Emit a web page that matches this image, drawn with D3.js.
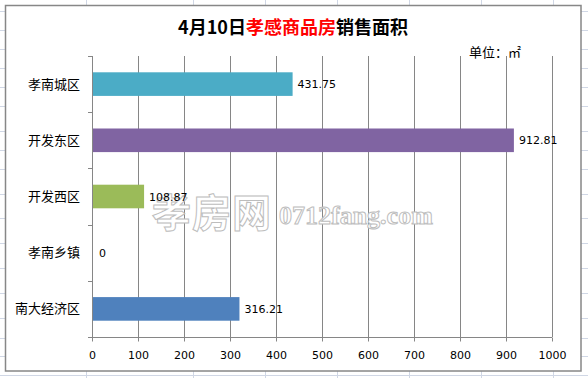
<!DOCTYPE html>
<html><head><meta charset="utf-8">
<script src="https://cdn.jsdelivr.net/npm/d3@7"></script>
<style>html,body{margin:0;padding:0;background:#fff;}svg{display:block;}</style>
</head><body>
<script>
const categories = ["孝南城区", "开发东区", "开发西区", "孝南乡镇", "南大经济区"];
const values = [431.75, 912.81, 108.87, 0, 316.21];
const colors = ["#4BACC6", "#8064A2", "#9BBB59", "#C0504D", "#4F81BD"];
const xTicks = [0, 100, 200, 300, 400, 500, 600, 700, 800, 900, 1000];
const titleParts = [["4月10日", "#000"], ["孝感商品房", "#FF0000"], ["销售面积", "#000"]];
const unitLabel = "单位：㎡";
const sheetCols = [86, 193, 265, 337, 409, 481, 553];
const sheetRows = [11, 30, 49, 68, 87, 106, 131, 150, 169, 194, 218, 243, 268, 293, 318, 338, 356, 375];

const W = 588, H = 378;
const svg = d3.select("body").append("svg").attr("width", W).attr("height", H);

// spreadsheet background
svg.append("rect").attr("width", W).attr("height", H).attr("fill", "#fff");
svg.selectAll("line.col").data(sheetCols).join("line")
  .attr("x1", d => d + 0.5).attr("x2", d => d + 0.5).attr("y1", 0).attr("y2", H)
  .attr("stroke", "#D0D7E5");
svg.selectAll("line.row").data(sheetRows).join("line")
  .attr("y1", d => d + 0.5).attr("y2", d => d + 0.5).attr("x1", 0).attr("x2", W)
  .attr("stroke", "#D0D7E5");

// chart frame
svg.append("rect").attr("x", 5.5).attr("y", 5.5).attr("width", 575.5).attr("height", 365.5)
  .attr("fill", "#fff").attr("stroke", "#878787").attr("stroke-width", 1.5);

const m = {left: 92, right: 552, top: 56, bottom: 337};
const x = d3.scaleLinear().domain([0, 1000]).range([m.left, m.right]);
const y = d3.scaleBand().domain(categories).range([m.top, m.bottom]).paddingInner(0.58).paddingOuter(0.29);

const gridColor = "#868686";
// gridlines
svg.append("g").selectAll("line").data(xTicks.slice(1)).join("line")
  .attr("x1", d => Math.round(x(d)) + 0.5).attr("x2", d => Math.round(x(d)) + 0.5)
  .attr("y1", m.top).attr("y2", m.bottom)
  .attr("stroke", gridColor);

// x axis
const xAxis = svg.append("g").attr("transform", `translate(0,${m.bottom + 0.5})`)
  .call(d3.axisBottom(x).tickValues(xTicks).tickFormat(d3.format("d")).tickSize(4).tickSizeOuter(0).tickPadding(6));
xAxis.select(".domain").attr("stroke", gridColor).attr("d", `M${m.left - 4},0H${m.right}`);
xAxis.selectAll(".tick line").attr("stroke", gridColor);
xAxis.selectAll(".tick").attr("transform", d => `translate(${Math.round(x(d)) + 0.5},0)`);
xAxis.selectAll("text").attr("font-family", "DejaVu Sans").attr("font-size", 11).attr("fill", "#000")
  .attr("dy", null).attr("y", 21.5);

// y axis line and ticks at band boundaries
svg.append("line").attr("x1", m.left + 0.5).attr("x2", m.left + 0.5).attr("y1", m.top).attr("y2", m.bottom)
  .attr("stroke", gridColor);
const step = y.step();
const bounds = d3.range(categories.length + 1).map(i => m.top + i * step);
svg.append("g").selectAll("line").data(bounds).join("line")
  .attr("x1", m.left - 4).attr("x2", m.left)
  .attr("y1", d => Math.round(d) + 0.5).attr("y2", d => Math.round(d) + 0.5)
  .attr("stroke", gridColor);

// category labels
svg.append("g").selectAll("text").data(categories).join("text")
  .attr("x", 80).attr("y", d => y(d) + y.bandwidth() / 2 + 4.5)
  .attr("text-anchor", "end").attr("font-family", "Noto Sans CJK SC").attr("font-size", 13)
  .attr("fill", "#000").text(d => d);

// bars
svg.append("g").selectAll("rect").data(categories).join("rect")
  .attr("x", m.left + 1).attr("y", d => y(d))
  .attr("width", (d, i) => values[i] > 0 ? x(values[i]) - m.left + 1 : 0)
  .attr("height", y.bandwidth())
  .attr("fill", (d, i) => colors[i]);

// title
const title = svg.append("text").attr("x", 293).attr("y", 34).attr("text-anchor", "middle")
  .attr("font-family", "Noto Sans CJK SC").attr("font-size", 18).attr("font-weight", "bold");
titleParts.forEach(([t, c]) => title.append("tspan").attr("fill", c).text(t));

// unit
svg.append("text").attr("x", 469).attr("y", 57).attr("font-family", "Noto Sans CJK SC")
  .attr("font-size", 13).attr("fill", "#000").text(unitLabel);

// watermark (drawn beneath data labels)
svg.append("text").attr("x", 152).attr("y", 227).attr("font-family", "Noto Sans CJK SC")
  .attr("font-size", 39).attr("font-weight", "bold").attr("fill", "#fff").attr("stroke", "#BDBDBD")
  .attr("stroke-width", 1).attr("letter-spacing", 1).text("孝房网");
svg.append("text").attr("x", 279).attr("y", 224).attr("font-family", "Liberation Serif")
  .attr("font-size", 26).attr("font-weight", "bold").attr("fill", "#fff").attr("stroke", "#BDBDBD")
  .attr("stroke-width", 1).text("0712fang.com");

// data labels
svg.append("g").selectAll("text").data(categories).join("text")
  .attr("x", (d, i) => x(values[i]) + 7).attr("y", d => y(d) + y.bandwidth() / 2 + 4)
  .attr("font-family", "DejaVu Sans").attr("font-size", 11).attr("fill", "#000")
  .text((d, i) => String(values[i]));
</script>
</body></html>
